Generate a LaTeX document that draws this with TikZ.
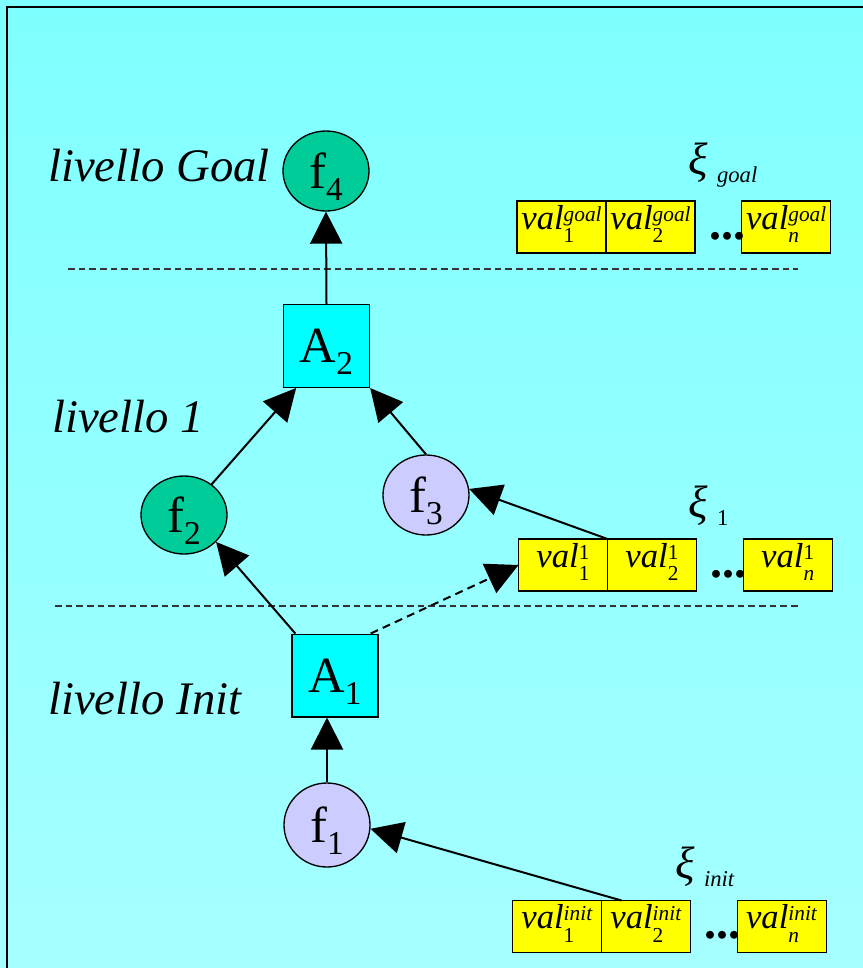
\documentclass[tikz,border=0pt]{standalone}
\usepackage{fontspec}
\setmainfont{LiberationSerif}[Extension=.ttf, UprightFont=*-Regular, BoldFont=*-Bold, ItalicFont=*-Italic, BoldItalicFont=*-BoldItalic]
\usetikzlibrary{arrows.meta, positioning, shapes.geometric}
\definecolor{bgtop}{HTML}{7FFFFF}
\definecolor{bgbottom}{HTML}{A6FFFF}
\definecolor{factgreen}{HTML}{00CC99}
\definecolor{factlilac}{HTML}{CCCCFF}
\definecolor{actcyan}{HTML}{00FFFF}
\definecolor{valyellow}{HTML}{FFFF00}
\newcommand{\nodesub}[2]{#1\raisebox{-9pt}{\fontsize{25}{25}\selectfont #2}}
\newcommand{\valtxt}[2]{\textit{val}\raisebox{-10pt}{\fontsize{16}{16}\selectfont\begin{tabular}[b]{@{}l@{}}#1\\ #2\end{tabular}}}
\newcommand{\xitxt}[1]{{\fontsize{34}{34}\selectfont\textit{ξ}}\hspace{7pt}\raisebox{-6pt}{\fontsize{17}{17}\selectfont #1}}

\begin{document}
\begin{tikzpicture}[x=0.75pt, y=-0.75pt,
    arr/.style={-{Triangle[length=24pt, width=24pt]}, line width=1.5pt},
    fact/.style={ellipse, draw, line width=1pt, inner sep=0pt, minimum width=64.5pt, minimum height=60pt, text depth=0pt, font=\fontsize{38}{38}\selectfont},
    goalfact/.style={fact, fill=factgreen},
    initfact/.style={fact, fill=factlilac},
    action/.style={rectangle, draw, line width=1pt, fill=actcyan, inner sep=0pt, minimum width=64.5pt, minimum height=62pt, text depth=0pt, font=\fontsize{38}{38}\selectfont},
    valbox/.style={rectangle, draw, line width=1pt, fill=valyellow, inner sep=0pt, outer sep=0pt, minimum width=66.75pt, minimum height=39pt, font=\fontsize{26}{26}\selectfont},
    valdots/.style={anchor=base east, inner sep=0pt, xshift=3pt, font=\bfseries\fontsize{36}{36}\selectfont},
    level/.style={anchor=base west, inner sep=0pt, font=\itshape\fontsize{35}{35}\selectfont},
    xilabel/.style={anchor=base west, inner sep=0pt},
    sep/.style={line width=1pt, dash pattern=on 5pt off 3pt, black!80}]
  \useasboundingbox (0,0) rectangle (863,968);
  % background and frame
  \fill[top color=bgtop, bottom color=bgbottom] (0,0) rectangle (863,968);
  \draw[line width=1.8pt] (7,968) -- (7,7) -- (863,7);
  % level separators
  \draw[sep] (68,269) -- (798,269);
  \draw[sep] (55,606) -- (798,606);
  % level names
  \node[level] (lgoal) at (48,181) {livello Goal};
  \node[level] (lone) at (52,432) {livello 1};
  \node[level] (linit) at (48,714) {livello Init};
  % facts and actions
  \node[goalfact] (f4) at (326,171) {\nodesub{f}{4}};
  \node[action] (A2) at (326.5,346) {\nodesub{A}{2}};
  \node[goalfact, minimum height=58.5pt] (f2) at (184,515) {\nodesub{f}{2}};
  \node[initfact] (f3) at (426,495) {\nodesub{f}{3}};
  \node[action] (A1) at (335,675.5) {\nodesub{A}{1}};
  \node[initfact, minimum height=63pt] (f1) at (327,825) {\nodesub{f}{1}};
  % value vectors
  \node[xilabel] (xgoal) at (688,174) {\xitxt{\textit{goal}}};
  \node[valbox] (g1) at (561.5,227) {\valtxt{\textit{goal}}{1}};
  \node[valbox, right=0pt of g1] (g2) {\valtxt{\textit{goal}}{2}};
  \node[valbox, right=35pt of g2] (g3) {\valtxt{\textit{goal}}{\textit{n}}};
  \node[valdots] (gdots) at ([yshift=-9pt]g3.west) {...};
  \node[xilabel] (xone) at (688,517) {\xitxt{1}};
  \node[valbox] (r1) at (563,565) {\valtxt{1}{1}};
  \node[valbox, right=0pt of r1] (r2) {\valtxt{1}{2}};
  \node[valbox, right=35pt of r2] (r3) {\valtxt{1}{\textit{n}}};
  \node[valdots] (rdots) at ([yshift=-9pt]r3.west) {...};
  \node[xilabel] (xinit) at (675,878) {\xitxt{\textit{init}}};
  \node[valbox] (i1) at (557,926.5) {\valtxt{\textit{init}}{1}};
  \node[valbox, right=0pt of i1] (i2) {\valtxt{\textit{init}}{2}};
  \node[valbox, right=35pt of i2] (i3) {\valtxt{\textit{init}}{\textit{n}}};
  \node[valdots] (idots) at ([yshift=-9pt]i3.west) {...};
  % connectors
  \draw[arr] (A2.north) -- (f4.south);
  \draw[arr] (f2.48) -- ([xshift=10pt]A2.south west);
  \draw[arr] (f3.north) -- (A2.south east);
  \draw[arr] ([xshift=3pt]A1.north west) -- (f2.-40);
  \draw[arr] (r2.north west) -- (f3.8);
  \draw[arr, dash pattern=on 6pt off 4pt] ([xshift=-6pt]A1.north east) -- (r1.west);
  \draw[arr] (f1.north) -- (f1.north |- A1.south);
  \draw[arr] ([xshift=15pt]i2.north west) -- (f1.-5);
\end{tikzpicture}
\end{document}
